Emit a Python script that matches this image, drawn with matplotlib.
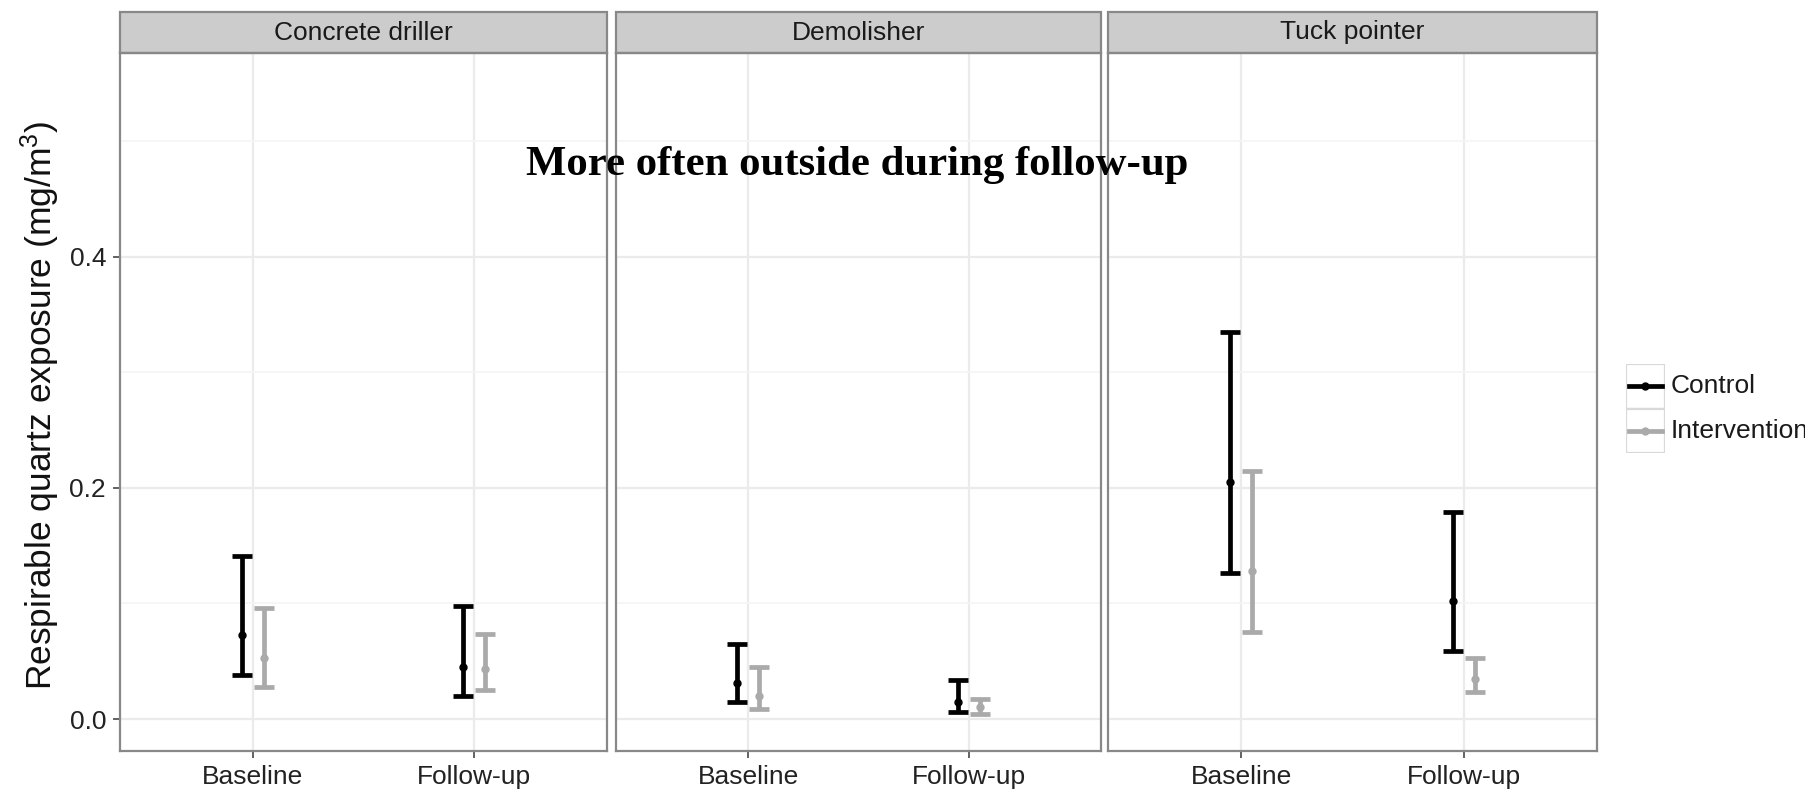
import numpy as np
import matplotlib.pyplot as plt
from matplotlib.patches import Rectangle

plt.rcParams['mathtext.fontset'] = 'custom'
plt.rcParams['mathtext.rm'] = 'Liberation Sans'
plt.rcParams['mathtext.it'] = 'Liberation Sans'

# Data (mean and interval, mg/m3)
trades = ['Concrete driller', 'Demolisher', 'Tuck pointer']
periods = ['Baseline', 'Follow-up']
groups = ['Control', 'Intervention']

# rows: trade, cols: period
controlMean = [[0.073, 0.045], [0.031, 0.015], [0.205, 0.102]]
controlLow = [[0.038, 0.020], [0.015, 0.006], [0.126, 0.059]]
controlHigh = [[0.141, 0.098], [0.065, 0.034], [0.335, 0.179]]

interventionMean = [[0.053, 0.043], [0.020, 0.010], [0.128, 0.035]]
interventionLow = [[0.028, 0.025], [0.009, 0.004], [0.075, 0.023]]
interventionHigh = [[0.096, 0.074], [0.045, 0.017], [0.215, 0.053]]

groupColors = ['#000000', '#aaaaaa']
labelFont = 'Liberation Sans'

W, H = 1806, 794
fig = plt.figure(figsize=(W / 100, H / 100), dpi=100)

# panel geometry in pixels
panelLefts = [120, 616, 1108]
panelWidths = [487, 485, 489]
panelTop, panelBottom = 53, 751
stripH = 41

means = [controlMean, interventionMean]
lows = [controlLow, interventionLow]
highs = [controlHigh, interventionHigh]
offsets = [-0.05, 0.05]
xPos = np.arange(1, len(periods) + 1)

for p, trade in enumerate(trades):
    ax = fig.add_axes([panelLefts[p] / W, (H - panelBottom) / H,
                       panelWidths[p] / W, (panelBottom - panelTop) / H])
    ax.set_xlim(0.4, 2.6)
    ax.set_ylim(-0.0277, 0.5766)
    ax.set_yticks([0.0, 0.2, 0.4])
    ax.set_yticks([0.1, 0.3, 0.5], minor=True)
    ax.set_xticks(xPos)
    ax.set_xticklabels(periods, fontsize=19, family=labelFont, color='#222222')
    ax.grid(True, which='major', color='#ebebeb', lw=1.6)
    ax.grid(True, which='minor', axis='y', color='#f5f5f5', lw=1.2)
    ax.set_axisbelow(True)
    for s in ax.spines.values():
        s.set_color('#888888')
        s.set_linewidth(1.6)
    ax.tick_params(axis='both', which='major', length=5, width=1.3, color='#555555', pad=5)
    ax.tick_params(axis='y', which='minor', length=0)
    if p == 0:
        ax.set_yticklabels(['0.0', '0.2', '0.4'], fontsize=19, family=labelFont, color='#222222')
    else:
        ax.tick_params(axis='y', which='major', length=0, labelleft=False)

    # dodged error bars, one per group
    for g in range(len(groups)):
        m = np.array(means[g][p])
        lo = np.array(lows[g][p])
        hi = np.array(highs[g][p])
        ax.errorbar(xPos + offsets[g], m, yerr=[m - lo, hi - m], fmt='o',
                    color=groupColors[g], ms=5, elinewidth=3.4,
                    capsize=7, capthick=3.4, zorder=3)

    # facet strip
    ax.add_patch(Rectangle((0, 1), 1, stripH / (panelBottom - panelTop),
                           transform=ax.transAxes, clip_on=False,
                           facecolor='#cccccc', edgecolor='#888888', lw=1.6))
    ax.text(0.5, 1 + stripH / 2 / (panelBottom - panelTop), trade,
            transform=ax.transAxes, ha='center', va='center',
            fontsize=19, family=labelFont, color='#1a1a1a')

fig.text(40 / W, (H - 405) / H, 'Respirable quartz exposure (mg/m$^{3}$)',
         rotation=90, ha='center', va='center', fontsize=25.5,
         family='Liberation Sans', color='#111111')

fig.text(857 / W, (H - 175) / H, 'More often outside during follow-up',
         ha='center', va='baseline', fontsize=30.8, fontweight='bold',
         family='Liberation Serif', color='black')

# legend with ggplot-style key boxes
leg = fig.add_axes([1626 / W, (H - 453) / H, 39 / W, 89 / H])
leg.set_xlim(0, 1)
leg.set_ylim(0, 2)
leg.axis('off')
for g, name in enumerate(groups):
    y0 = 1 - g
    leg.add_patch(Rectangle((0, y0), 1, 1, facecolor='white',
                            edgecolor='#d9d9d9', lw=1.6))
    leg.plot([0.08, 0.92], [y0 + 0.5, y0 + 0.5], color=groupColors[g], lw=3.4)
    leg.plot([0.5], [y0 + 0.5], 'o', color=groupColors[g], ms=5)
    leg.text(1.15, y0 + 0.5, name, ha='left', va='center', fontsize=19,
             family=labelFont, color='#1a1a1a', clip_on=False)

fig.savefig('out.png', dpi=100)
